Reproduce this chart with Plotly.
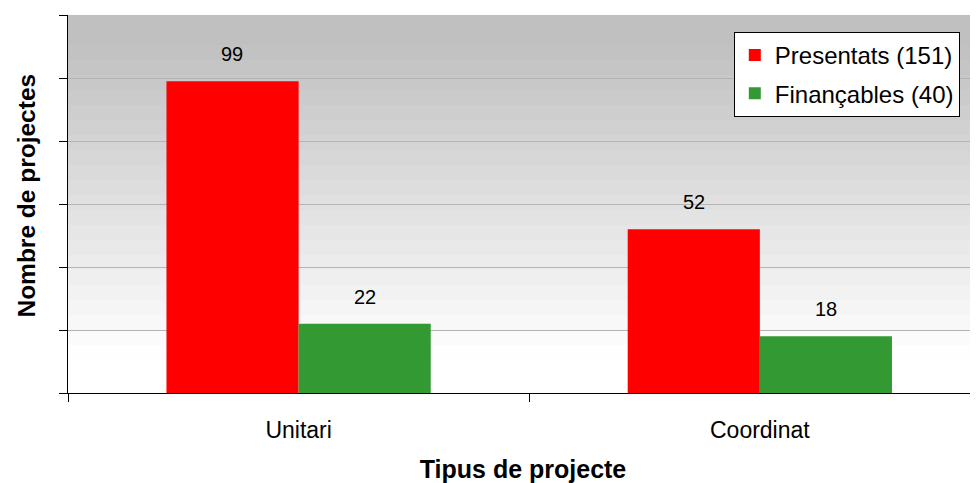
import plotly.graph_objects as go

categories = ["Unitari", "Coordinat"]
presentats = [99, 52]
financables = [22, 18]
series_names = ["Presentats (151)", "Finançables (40)"]
series_colors = ["#ff0000", "#339933"]

FONT = "Liberation Sans, Arial, sans-serif"

# page body has an 8px margin: figure sits at (8,8) in the window
W, H_FIG = 970, 475
ML, MT, MB, MR = 60, 7, 90, 0

fig = go.Figure()
for i, (name, vals, col) in enumerate(zip(series_names, [presentats, financables], series_colors)):
    fig.add_trace(go.Bar(x=categories, y=vals, name=name, legendgroup=f"g{i}",
                         marker=dict(color=col, line=dict(width=0))))

# value labels above bars
for vals, off in zip([presentats, financables], [-0.1435, 0.1435]):
    for i, v in enumerate(vals):
        fig.add_annotation(x=i + off, y=v, text=str(v), showarrow=False, yshift=27,
                           font=dict(family=FONT, size=20, color="black"), xref="x", yref="y")

# y-axis title (placed as annotation to match the reference offset)
fig.add_annotation(text="<b>Nombre de projectes</b>", textangle=-90, showarrow=False,
                   xref="paper", yref="paper", x=-0.0456, y=0.521,
                   xanchor="center", yanchor="middle",
                   font=dict(family=FONT, size=24.5, color="black"))

# background gradient bands (style)
plot_top, plot_bot = 15, 393
H = plot_bot - plot_top
shapes = []
band = 15
y = plot_top
while y < plot_bot:
    y2 = min(y + band, plot_bot)
    mid = (y + y2) / 2
    t = (mid - 40) / (360 - 40)
    t = max(0.0, min(1.0, t))
    g = int(round(192 + t * (255 - 192)))
    shapes.append(dict(type="rect", xref="paper", yref="paper", x0=0, x1=1,
                       y0=(plot_bot - y2) / H, y1=(plot_bot - y) / H,
                       fillcolor=f"rgb({g},{g},{g})", line=dict(width=0), layer="below"))
    y = y2

fig.update_layout(
    width=W, height=H_FIG,
    margin=dict(l=ML, r=MR, t=MT, b=MB),
    paper_bgcolor="white", plot_bgcolor="white",
    barmode="group", bargap=0.427, bargroupgap=0,
    shapes=shapes,
    font=dict(family=FONT, color="black"),
    legend=dict(x=0.980, y=0.955, xanchor="right", yanchor="top",
                bgcolor="white", bordercolor="black", borderwidth=1,
                font=dict(family=FONT, size=24, color="black"),
                itemsizing="constant", tracegroupgap=4, itemwidth=30),
    xaxis=dict(range=[-0.5, 1.473], type="category", tickson="boundaries",
               ticks="outside", ticklen=8, tickcolor="black",
               showline=True, linecolor="black", linewidth=1,
               showgrid=False, tickfont=dict(family=FONT, size=23, color="black"),
               ticklabelstandoff=16,
               title=dict(text="<b>Tipus de projecte</b>", font=dict(family=FONT, size=25, color="black"), standoff=22)),
    yaxis=dict(range=[0, 120], dtick=20, ticks="outside", ticklen=8, tickcolor="black",
               showticklabels=False, showline=True, linecolor="black", linewidth=1,
               showgrid=True, gridcolor="#b4b4b4", gridwidth=1, zeroline=False),
)

fig.write_html("out.html")
